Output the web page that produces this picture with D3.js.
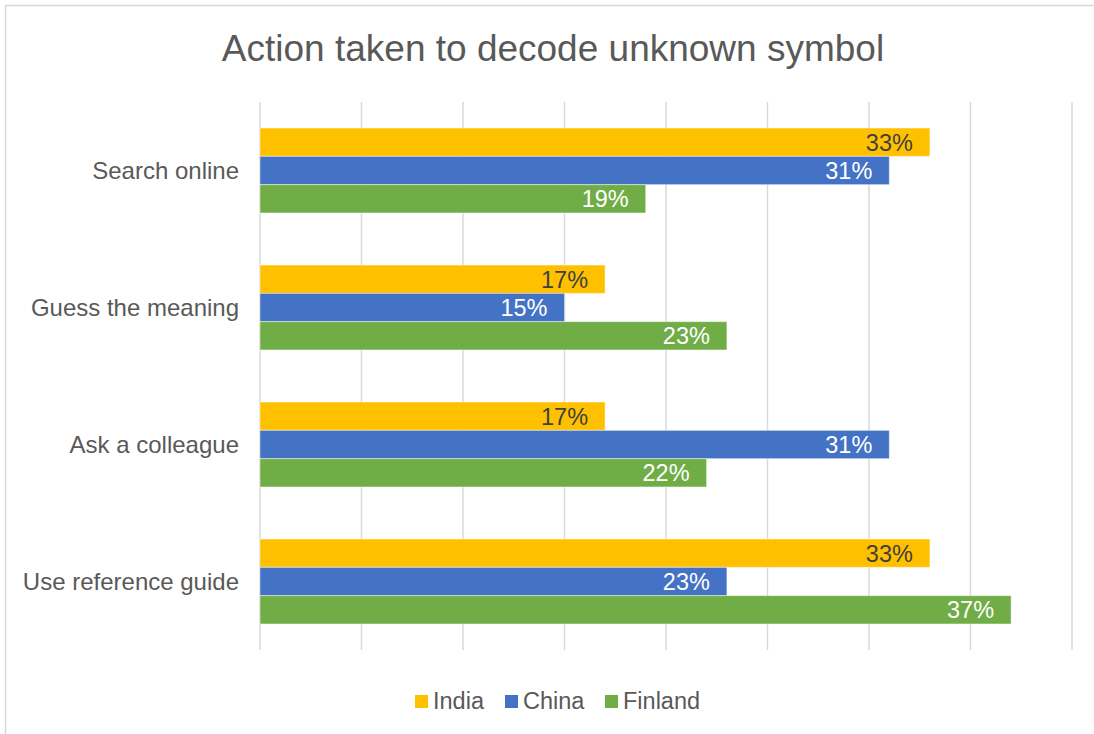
<!DOCTYPE html>
<html>
<head>
<meta charset="utf-8">
<script src="https://cdn.jsdelivr.net/npm/d3@7"></script>
<style>
  body { margin: 0; background: #fff; overflow: hidden; }
  svg { display: block; }
  svg text { font-family: "Liberation Sans", Arial, sans-serif; }
</style>
</head>
<body>
<div id="chart"></div>
<script>
// chart data
var categories = ["Search online", "Guess the meaning", "Ask a colleague", "Use reference guide"];
var seriesNames = ["India", "China", "Finland"];
var india   = [0.33, 0.17, 0.17, 0.33];
var china   = [0.31, 0.15, 0.31, 0.23];
var finland = [0.19, 0.23, 0.22, 0.37];
var xTicks  = [0, 0.05, 0.10, 0.15, 0.20, 0.25, 0.30, 0.35, 0.40];

var colors = { India: "#ffc000", China: "#4472c4", Finland: "#70ad47" };
var labelColors = { India: "#404040", China: "#ffffff", Finland: "#ffffff" };

var width = 1094, height = 734;

var svg = d3.select("#chart").append("svg")
    .attr("width", width)
    .attr("height", height);

// outer frame (runs off the right and bottom edges)
svg.append("rect")
    .attr("x", 5.5).attr("y", 5.5)
    .attr("width", width + 10).attr("height", height + 10)
    .attr("fill", "#fff")
    .attr("stroke", "#d9d9d9")
    .attr("stroke-width", 1.5);

// title
svg.append("text")
    .attr("x", 553).attr("y", 61)
    .attr("text-anchor", "middle")
    .style("font-size", "37px")
    .style("fill", "#595959")
    .text("Action taken to decode unknown symbol");

var x = d3.scaleLinear().domain([0, 0.4]).range([260, 1072]);
var y = d3.scaleBand().domain(categories).range([102, 650]).paddingInner(0.38).paddingOuter(0.19);
var y1 = d3.scaleBand().domain(seriesNames).range([0, y.bandwidth()]);

// gridlines
svg.append("g").selectAll("line")
    .data(xTicks)
    .enter().append("line")
    .attr("x1", function (d) { return x(d); })
    .attr("x2", function (d) { return x(d); })
    .attr("y1", 102).attr("y2", 650)
    .attr("stroke", "#d9d9d9")
    .attr("stroke-width", 1.5);

// category labels
svg.append("g").selectAll("text")
    .data(categories)
    .enter().append("text")
    .attr("x", 239)
    .attr("y", function (d) { return y(d) + y.bandwidth() / 2; })
    .attr("dy", "0.35em")
    .attr("text-anchor", "end")
    .style("font-size", "24px")
    .style("fill", "#595959")
    .text(function (d) { return d; });

var rows = [];
categories.forEach(function (c, i) {
    rows.push({ cat: c, s: "India", v: india[i] });
    rows.push({ cat: c, s: "China", v: china[i] });
    rows.push({ cat: c, s: "Finland", v: finland[i] });
});

var bars = svg.append("g").selectAll("g")
    .data(rows)
    .enter().append("g");

bars.append("rect")
    .attr("x", x(0))
    .attr("y", function (d) { return y(d.cat) + y1(d.s); })
    .attr("width", function (d) { return x(d.v) - x(0); })
    .attr("height", y1.bandwidth())
    .attr("fill", function (d) { return colors[d.s]; })
    .attr("stroke", "#fff")
    .attr("stroke-opacity", 0.45)
    .attr("stroke-width", 1);

bars.append("text")
    .attr("x", function (d) { return x(d.v) - 17; })
    .attr("y", function (d) { return y(d.cat) + y1(d.s) + y1.bandwidth() / 2; })
    .attr("dy", "0.36em")
    .attr("text-anchor", "end")
    .style("font-size", "23.5px")
    .style("fill", function (d) { return labelColors[d.s]; })
    .text(function (d) { return Math.round(d.v * 100) + "%"; });

// legend
var legendX = [415, 505, 605];
var legend = svg.append("g").selectAll("g")
    .data(seriesNames)
    .enter().append("g")
    .attr("transform", function (d, i) { return "translate(" + legendX[i] + ",0)"; });

legend.append("rect")
    .attr("x", 0).attr("y", 695)
    .attr("width", 13).attr("height", 13)
    .attr("fill", function (d) { return colors[d]; });

legend.append("text")
    .attr("x", 18).attr("y", 709)
    .style("font-size", "23.5px")
    .style("fill", "#595959")
    .text(function (d) { return d; });
</script>
</body>
</html>
